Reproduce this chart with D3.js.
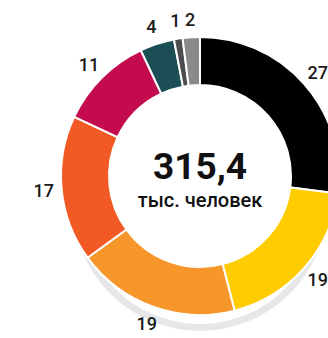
<!DOCTYPE html>
<html>
<head>
<meta charset="utf-8">
<script src="https://cdn.jsdelivr.net/npm/d3@7"></script>
<style>
  html, body { margin: 0; padding: 0; background: #fff; }
  svg { display: block; }
</style>
</head>
<body>
<svg id="chart" width="328" height="338"></svg>
<script>
// Share of population by group, percent (clockwise from the top)
const groups = ["g1", "g2", "g3", "g4", "g5", "g6", "g7", "g8"];
const values = [27, 19, 19, 17, 11, 4, 1, 2];
const colors = ["#000000", "#ffcc00", "#f7962b", "#f15a24", "#c30b4e", "#1b4f55", "#4d4d4f", "#8a8a8c"];
const totalLabel = "315,4";
const unitLabel = "тыс. человек";

const svg = d3.select("#chart");
const cx = 200, cy = 176;
const outerR = 139, innerR = 91;
const labelR = 157;

const data = groups.map((g, i) => ({ group: g, value: values[i], color: colors[i] }));

const pie = d3.pie().value(d => d.value).sort(null);
const arcs = pie(data);

const root = svg.append("g").attr("transform", `translate(${cx},${cy})`);

// soft ground shadow beneath the ring
root.append("path")
  .attr("transform", "translate(0,28)")
  .attr("d", d3.arc().innerRadius(120).outerRadius(127).startAngle(0).endAngle(2 * Math.PI)())
  .attr("fill", "#e6e7e9");

const arc = d3.arc().innerRadius(innerR).outerRadius(outerR);

root.selectAll("path.slice")
  .data(arcs)
  .join("path")
  .attr("class", "slice")
  .attr("d", arc)
  .attr("fill", d => d.data.color)
  .attr("stroke", "#fff")
  .attr("stroke-width", 2);

const labelArc = d3.arc().innerRadius(labelR).outerRadius(labelR);

root.selectAll("text.val")
  .data(arcs)
  .join("text")
  .attr("class", "val")
  .attr("transform", d => `translate(${labelArc.centroid(d)})`)
  .attr("text-anchor", "middle")
  .attr("dominant-baseline", "central")
  .attr("font-family", "Roboto, 'Open Sans', sans-serif")
  .attr("font-weight", 500)
  .attr("font-size", 18)
  .attr("fill", "#1a1a1a")
  .text(d => d.data.value);

root.append("text")
  .attr("x", 0).attr("y", 3)
  .attr("text-anchor", "middle")
  .attr("font-family", "Roboto, 'Open Sans', sans-serif")
  .attr("font-weight", 700)
  .attr("font-size", 37)
  .attr("fill", "#111")
  .text(totalLabel);

root.append("text")
  .attr("x", 0).attr("y", 30.5)
  .attr("text-anchor", "middle")
  .attr("font-family", "Roboto, 'Open Sans', sans-serif")
  .attr("font-weight", 500)
  .attr("font-size", 20)
  .attr("fill", "#111")
  .text(unitLabel);
</script>
</body>
</html>
